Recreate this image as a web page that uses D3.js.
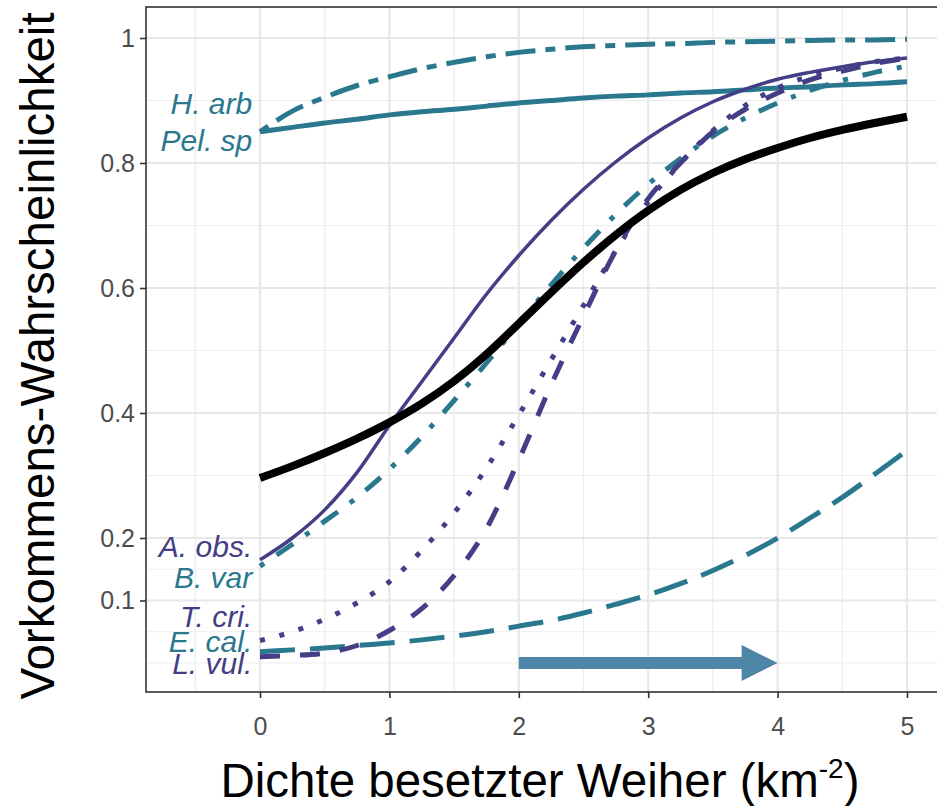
<!DOCTYPE html>
<html><head><meta charset="utf-8">
<script src="https://cdn.jsdelivr.net/npm/d3@7"></script>
<style>
body{margin:0;background:#fff;}
svg{display:block;font-family:"Liberation Sans",Arial,sans-serif;}
</style>
</head><body>
<svg id="chart" width="937" height="806"></svg>
<script>
// ---------- data ----------
const xValues = [0,0.25,0.5,0.75,1,1.25,1.5,1.75,2,2.25,2.5,2.75,3,3.25,3.5,3.75,4,4.25,4.5,4.75,5];
const meanAll = [0.296,0.315,0.336,0.359,0.385,0.415,0.451,0.494,0.543,0.593,0.641,0.685,0.724,0.757,0.784,0.806,0.824,0.840,0.853,0.864,0.874];
const aObs = [0.165,0.200,0.245,0.305,0.380,0.450,0.520,0.590,0.652,0.708,0.758,0.802,0.840,0.872,0.898,0.918,0.934,0.945,0.954,0.962,0.968];
const bVar = [0.155,0.190,0.227,0.265,0.310,0.362,0.420,0.480,0.543,0.605,0.664,0.718,0.766,0.807,0.843,0.872,0.896,0.916,0.932,0.945,0.955];
const tCri = [0.036,0.050,0.070,0.096,0.130,0.180,0.240,0.312,0.397,0.485,0.572,0.660,0.738,0.800,0.852,0.892,0.920,0.939,0.952,0.962,0.968];
const lVul = [0.010,0.012,0.016,0.028,0.052,0.087,0.140,0.215,0.325,0.445,0.555,0.660,0.743,0.800,0.850,0.886,0.912,0.933,0.947,0.959,0.968];
const eCal = [0.018,0.021,0.024,0.028,0.032,0.037,0.043,0.050,0.059,0.068,0.080,0.094,0.109,0.127,0.148,0.172,0.200,0.232,0.265,0.302,0.340];
const hArb = [0.850,0.883,0.905,0.924,0.938,0.951,0.961,0.970,0.977,0.982,0.986,0.988,0.990,0.991,0.993,0.994,0.995,0.996,0.997,0.997,0.998];
const pelSp = [0.850,0.857,0.864,0.870,0.877,0.882,0.886,0.891,0.896,0.900,0.904,0.907,0.909,0.912,0.914,0.917,0.920,0.922,0.925,0.927,0.930];

const speciesNames = ["H. arb","Pel. sp","A. obs.","B. var","T. cri.","E. cal.","L. vul."];
const speciesLabelY = [0.896,0.837,0.187,0.138,0.075,0.035,0.0];
const labelX = -0.06;

const xTicks = [0,1,2,3,4,5];
const xMinor = [-0.5,0.5,1.5,2.5,3.5,4.5,5.5];
const yTicks = [0.1,0.2,0.4,0.6,0.8,1];
const yTickLabels = ["0.1","0.2","0.4","0.6","0.8","1"];
const yMinor = [0,0.05,0.15,0.3,0.5,0.7,0.9];

const arrowFrom = 2, arrowTo = 4, arrowY = 0;

const xTitle = "Dichte besetzter Weiher (km";
const yTitle = "Vorkommens-Wahrscheinlichkeit";

// ---------- styles ----------
const PURPLE = "#433e85", TEAL = "#2a788e";
const series = [
  {name:"E. cal.", v:eCal, color:TEAL, w:5, dash:"35,15"},
  {name:"H. arb", v:hArb, color:TEAL, w:5, dash:"10,10,30,10"},
  {name:"Pel. sp", v:pelSp, color:TEAL, w:5, dash:null},
  {name:"B. var", v:bVar, color:TEAL, w:5, dash:"5,15,20,15"},
  {name:"L. vul.", v:lVul, color:PURPLE, w:5, dash:"20,20"},
  {name:"T. cri.", v:tCri, color:PURPLE, w:5, dash:"5,15"},
  {name:"A. obs.", v:aObs, color:PURPLE, w:3.5, dash:null},
  {name:"mean", v:meanAll, color:"#000", w:8, dash:null}
];
const labelColor = {"H. arb":TEAL,"Pel. sp":TEAL,"A. obs.":PURPLE,"B. var":TEAL,"T. cri.":PURPLE,"E. cal.":TEAL,"L. vul.":PURPLE};

// ---------- layout ----------
const svg = d3.select("#chart");
const P = {left:146, top:7, right:960, bottom:692};
const x = d3.scaleLinear().domain([0,5]).range([260,907]);
const y = d3.scaleLinear().domain([0,1]).range([663,38]);

svg.append("defs").append("clipPath").attr("id","pc")
  .append("rect").attr("x",P.left).attr("y",P.top).attr("width",P.right-P.left).attr("height",P.bottom-P.top);

const grid = svg.append("g").attr("clip-path","url(#pc)");
grid.selectAll(".xm").data(xMinor).join("line")
  .attr("x1",d=>x(d)).attr("x2",d=>x(d)).attr("y1",P.top).attr("y2",P.bottom)
  .attr("stroke","#ededed").attr("stroke-width",1.2);
grid.selectAll(".ym").data(yMinor).join("line")
  .attr("y1",d=>y(d)).attr("y2",d=>y(d)).attr("x1",P.left).attr("x2",P.right)
  .attr("stroke","#ededed").attr("stroke-width",1.2);
grid.selectAll(".xM").data(xTicks).join("line")
  .attr("x1",d=>x(d)).attr("x2",d=>x(d)).attr("y1",P.top).attr("y2",P.bottom)
  .attr("stroke","#e8e8e8").attr("stroke-width",2.2);
grid.selectAll(".yM").data(yTicks).join("line")
  .attr("y1",d=>y(d)).attr("y2",d=>y(d)).attr("x1",P.left).attr("x2",P.right)
  .attr("stroke","#e8e8e8").attr("stroke-width",2.2);

// lines
const plot = svg.append("g").attr("clip-path","url(#pc)");
const line = d3.line().x((d,i)=>x(xValues[i])).y(d=>y(d)).curve(d3.curveMonotoneX);
series.forEach(s=>{
  plot.append("path").attr("d",line(s.v)).attr("fill","none")
    .attr("stroke",s.color).attr("stroke-width",s.w)
    .attr("stroke-dasharray",s.dash).attr("stroke-linecap","butt").attr("stroke-linejoin","round");
});

// arrow
const headLen = 36, headHalf = 18, shaftHalf = 6;
const ax0 = x(arrowFrom), ax1 = x(arrowTo), ay = y(arrowY);
plot.append("rect").attr("x",ax0).attr("y",ay-shaftHalf).attr("width",ax1-headLen-ax0+1).attr("height",shaftHalf*2).attr("fill","#4f86a8");
plot.append("path").attr("d",`M${ax1-headLen},${ay-headHalf}L${ax1},${ay}L${ax1-headLen},${ay+headHalf}Z`).attr("fill","#4f86a8");

// species labels
svg.append("g").selectAll("text").data(speciesNames).join("text")
  .attr("x",x(labelX)).attr("y",(d,i)=>y(speciesLabelY[i]))
  .attr("dy","0.36em").attr("text-anchor","end")
  .attr("font-style","italic").attr("font-size",30)
  .attr("fill",d=>labelColor[d]).text(d=>d);

// panel border
svg.append("rect").attr("x",P.left).attr("y",P.top).attr("width",P.right-P.left).attr("height",P.bottom-P.top)
  .attr("fill","none").attr("stroke","#333").attr("stroke-width",1.6);

// axes
const yAxis = svg.append("g").attr("transform",`translate(${P.left},0)`)
  .call(d3.axisLeft(y).tickValues(yTicks).tickFormat((d,i)=>yTickLabels[i]).tickSize(6).tickPadding(5));
yAxis.select(".domain").remove();
yAxis.selectAll(".tick line").attr("stroke","#333").attr("stroke-width",1.6);
yAxis.selectAll(".tick text").attr("fill","#4d4d4d").attr("font-size",25).attr("font-family","Liberation Sans, Arial, sans-serif");

const xAxis = svg.append("g").attr("transform",`translate(0,${P.bottom})`)
  .call(d3.axisBottom(x).tickValues(xTicks).tickFormat(d3.format("d")).tickSize(6).tickPadding(19));
xAxis.select(".domain").remove();
xAxis.selectAll(".tick line").attr("stroke","#333").attr("stroke-width",1.6);
xAxis.selectAll(".tick text").attr("fill","#4d4d4d").attr("font-size",25).attr("font-family","Liberation Sans, Arial, sans-serif");

// titles
const xt = svg.append("text").attr("x",540).attr("y",797).attr("text-anchor","middle")
  .attr("font-size",47.5).attr("fill","#000");
xt.append("tspan").text(xTitle);
xt.append("tspan").attr("font-size",28).attr("dy",-19).text("-2");
xt.append("tspan").attr("dy",19).text(")");

svg.append("text").attr("transform","translate(54,356) rotate(-90)").attr("text-anchor","middle")
  .attr("font-size",47.5).attr("fill","#000").text(yTitle);
</script>
</body></html>
